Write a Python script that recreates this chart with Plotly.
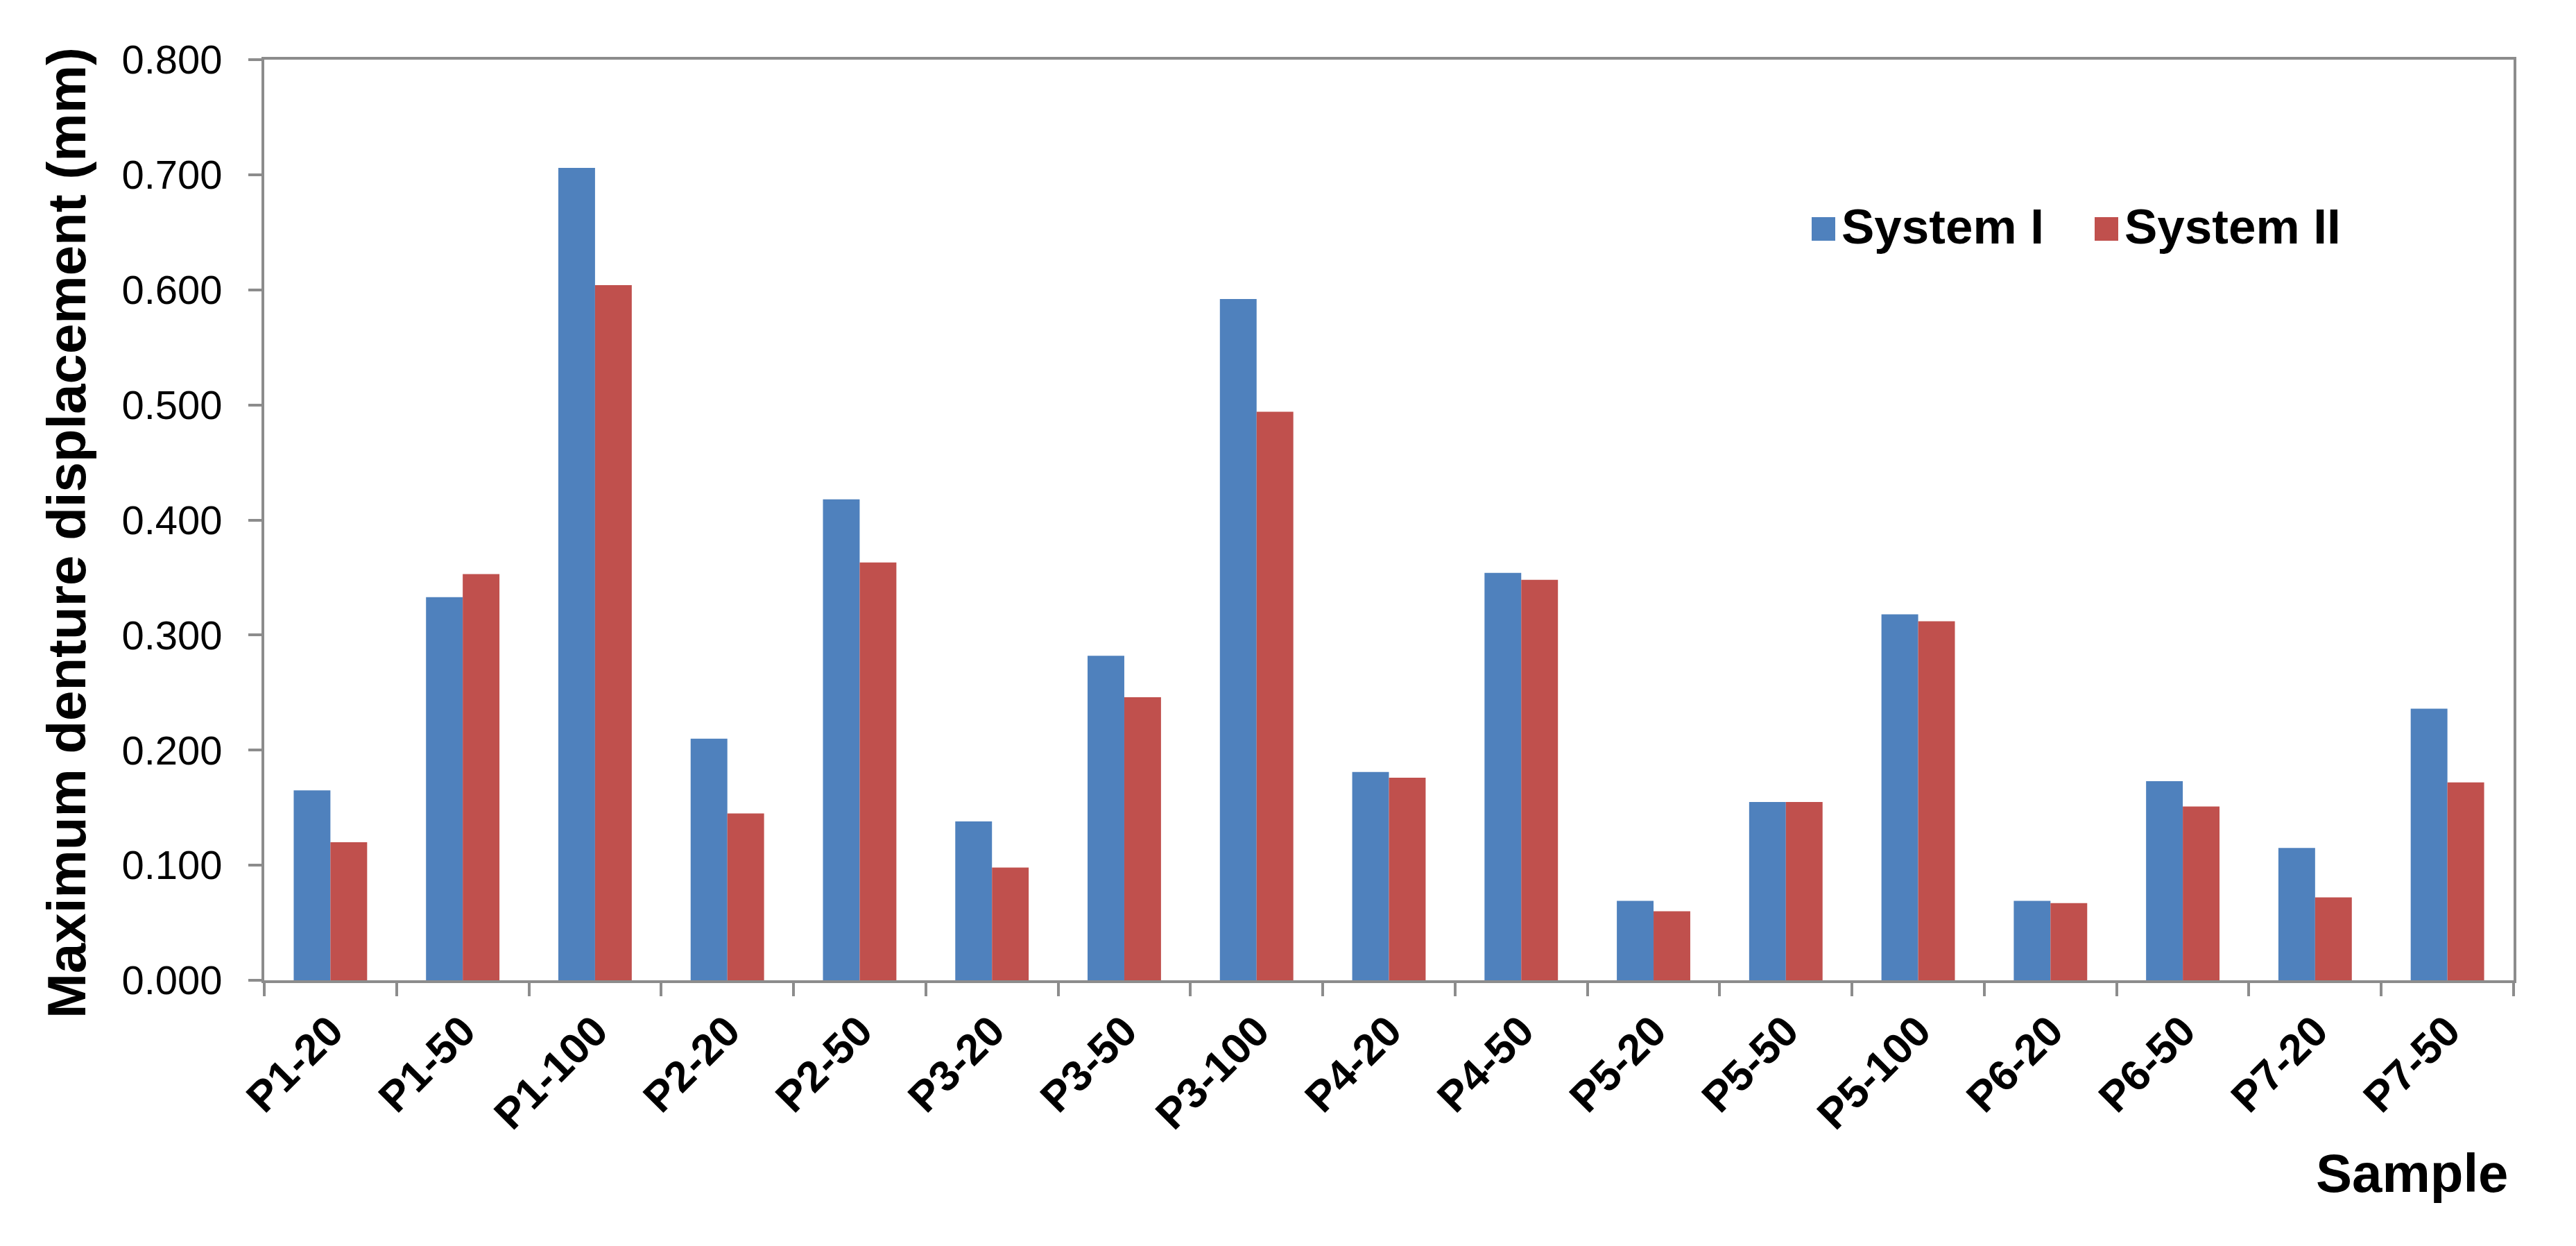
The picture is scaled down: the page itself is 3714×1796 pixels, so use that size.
import plotly.graph_objects as go

categories = ["P1-20", "P1-50", "P1-100", "P2-20", "P2-50", "P3-20", "P3-50", "P3-100",
              "P4-20", "P4-50", "P5-20", "P5-50", "P5-100", "P6-20", "P6-50", "P7-20", "P7-50"]
system_1 = [0.165, 0.333, 0.706, 0.210, 0.418, 0.138, 0.282, 0.592,
            0.181, 0.354, 0.069, 0.155, 0.318, 0.069, 0.173, 0.115, 0.236]
system_2 = [0.120, 0.353, 0.604, 0.145, 0.363, 0.098, 0.246, 0.494,
            0.176, 0.348, 0.060, 0.155, 0.312, 0.067, 0.151, 0.072, 0.172]
series_names = ["System I", "System II"]
series_colors = ["#4F81BD", "#C0504D"]
y_ticks = [0.0, 0.1, 0.2, 0.3, 0.4, 0.5, 0.6, 0.7, 0.8]

FONT = "Liberation Sans, Arial, Helvetica, sans-serif"
AXIS_GRAY = "#8c8c8c"

W, H = 3714, 1796
ML, MR, MT, MB = 373, 98, 78, 391
PW, PH = W - ML - MR, H - MT - MB


def px_to_paper_x(px):
    return (px - ML) / PW


def px_to_paper_y(py):
    return (H - MB - py) / PH


fig = go.Figure()
for name, vals, col in zip(series_names, [system_1, system_2], series_colors):
    fig.add_trace(go.Bar(name=name, x=categories, y=vals, showlegend=False,
                         marker=dict(color=col, line=dict(width=0))))

fig.update_layout(
    width=W, height=H,
    margin=dict(l=ML, r=MR, t=MT, b=MB, autoexpand=False),
    paper_bgcolor="white", plot_bgcolor="white",
    barmode="group", bargap=0.445, bargroupgap=0,
    font=dict(family=FONT, color="black"),
    showlegend=False,
)

fig.update_xaxes(
    type="category", showline=True, linecolor=AXIS_GRAY, linewidth=3.5, mirror=True,
    ticks="outside", tickson="boundaries", ticklen=19, tickwidth=3.5, tickcolor=AXIS_GRAY,
    tickangle=-45, tickfont=dict(size=62, family=FONT, weight="bold", color="black"),
    ticklabelstandoff=8, showgrid=False, zeroline=False,
)
fig.update_yaxes(
    range=[0, 0.8], tickvals=y_ticks, tickformat=".3f",
    showline=True, linecolor=AXIS_GRAY, linewidth=3.5, mirror=True,
    ticks="outside", ticklen=19, tickwidth=3.5, tickcolor=AXIS_GRAY,
    tickfont=dict(size=58, family=FONT, color="black"),
    ticklabelstandoff=26, showgrid=False, zeroline=False,
)

# legend (drawn as swatches + labels to match the large square keys)
legend_swatch_left = [2604, 3012]
legend_text_left = [2645, 3053]
legend_cy = 322
legend_text_cy = 318
sw = 34
for name, col, sx, tx in zip(series_names, series_colors, legend_swatch_left, legend_text_left):
    fig.add_shape(type="rect", xref="paper", yref="paper",
                  x0=px_to_paper_x(sx), x1=px_to_paper_x(sx + sw),
                  y0=px_to_paper_y(legend_cy + sw / 2), y1=px_to_paper_y(legend_cy - sw / 2),
                  fillcolor=col, line=dict(width=0))
    fig.add_annotation(text=name, xref="paper", yref="paper",
                       x=px_to_paper_x(tx), y=px_to_paper_y(legend_text_cy),
                       xanchor="left", yanchor="middle", showarrow=False,
                       font=dict(size=71, family=FONT, weight="bold", color="black"))

fig.add_annotation(text="Maximum denture displacement (mm)", xref="paper", yref="paper",
                   x=px_to_paper_x(88), y=px_to_paper_y(760), xanchor="center", yanchor="middle",
                   textangle=-90, showarrow=False,
                   font=dict(size=78, family=FONT, weight="bold", color="black"))
fig.add_annotation(text="Sample", xref="paper", yref="paper",
                   x=px_to_paper_x(3610), y=px_to_paper_y(1683), xanchor="right", yanchor="middle",
                   showarrow=False, font=dict(size=78, family=FONT, weight="bold", color="black"))

fig.write_html("out.html")
